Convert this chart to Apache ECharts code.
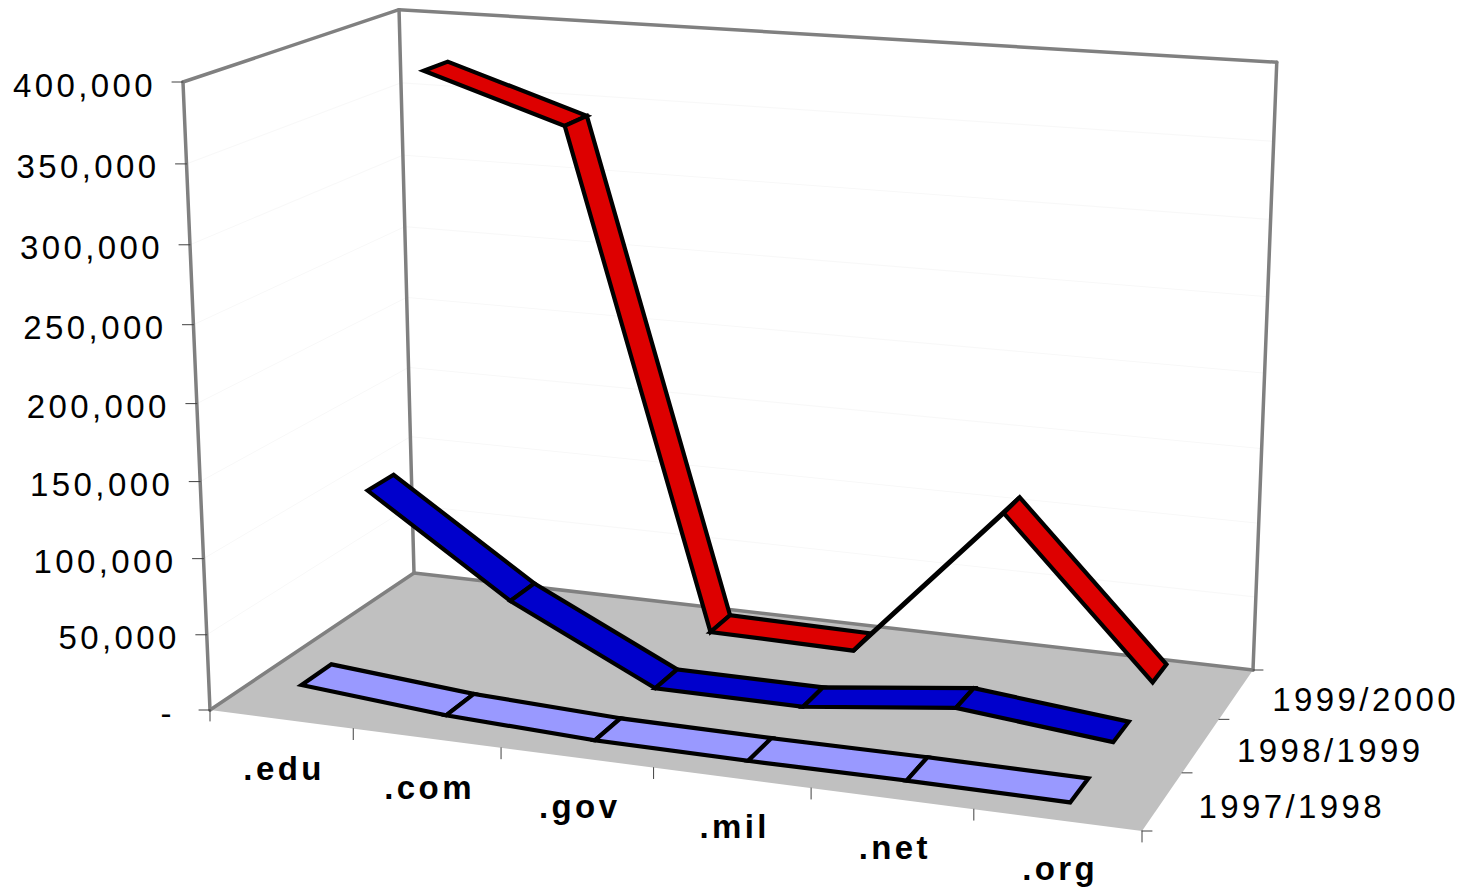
<!DOCTYPE html>
<html>
<head>
<meta charset="utf-8">
<title>Hosts by top-level domain</title>
<style>
  html, body { margin: 0; padding: 0; background: #ffffff; }
  #chart { width: 1466px; height: 893px; }
  #chart text { letter-spacing: 3.4px; }
</style>
<script src="https://cdn.jsdelivr.net/npm/echarts@6/dist/echarts.min.js"></script>
</head>
<body>
<div id="chart"></div>
<script>
// Series values per domain, one list per academic year.
const categories = ['.edu', '.com', '.gov', '.mil', '.net', '.org'];
const years = ['1997/1998', '1998/1999', '1999/2000'];
const hosts1997 = [13000, 5000, 1000, 500, 800, 300];
const hosts1998 = [113000, 48700, 1000, 800, 12500, 2600];
const hosts1999 = [372500, 342400, 7000, 5700, 110700, 8100];
const valueTicks = [0, 50000, 100000, 150000, 200000, 250000, 300000, 350000, 400000];
const valueLabels = ['-', '50,000', '100,000', '150,000', '200,000', '250,000', '300,000', '350,000', '400,000'];

const yearValues = [hosts1997, hosts1998, hosts1999];
const yearColors = ['#9999ff', '#0000cc', '#dd0000'];
const ribbonDepths = [0.14, 0.13, 0.125];
const FONT = '"Liberation Sans", Arial, sans-serif';
const FRAME = '#808080';

// Perspective camera: the floor quad fixes a homography, the vertical
// vanishing point supplies the height direction.
const floorQuad = [[210, 710], [1142, 831], [1253, 670], [414, 573]];
const verticalVanish = [753, 13332];
const wallTop = 82;
const alongWarp = 0.017;
const backWallLift = 6;

const camera = (function () {
  const [p0, p1, p2, p3] = floorQuad;
  const dx1 = p1[0] - p2[0], dx2 = p3[0] - p2[0], sx = p0[0] - p1[0] + p2[0] - p3[0];
  const dy1 = p1[1] - p2[1], dy2 = p3[1] - p2[1], sy = p0[1] - p1[1] + p2[1] - p3[1];
  const den = dx1 * dy2 - dx2 * dy1;
  const g = (sx * dy2 - dx2 * sy) / den;
  const h = (dx1 * sy - sx * dy1) / den;
  return {
    a: p1[0] - p0[0] + g * p1[0], b: p3[0] - p0[0] + h * p3[0], c: p0[0],
    d: p1[1] - p0[1] + g * p1[1], e: p3[1] - p0[1] + h * p3[1], f: p0[1],
    g, h,
    s: (p0[1] - wallTop) / (wallTop - verticalVanish[1])
  };
})();

// u: along the domains, d: into the depth, v: fraction of the value axis.
function project(u0, d, v) {
  const c = camera;
  const u = u0 - alongWarp * u0 * (1 - u0);
  const w = c.g * u + c.h * d + 1 + v * c.s;
  return [
    (c.a * u + c.b * d + c.c + v * c.s * verticalVanish[0]) / w,
    (c.d * u + c.e * d + c.f + v * c.s * verticalVanish[1]) / w - backWallLift * u * d * v
  ];
}

// Reads the hidden cartesian scales and returns axis fractions.
function fractions(api, rect, cat, value) {
  const pt = api.coord([cat, value]);
  return [(pt[0] - rect.x) / rect.width, 1 - (pt[1] - rect.y) / rect.height];
}

function seg(a, b, stroke, lineWidth) {
  return {
    type: 'line',
    shape: { x1: a[0], y1: a[1], x2: b[0], y2: b[1] },
    style: { stroke, lineWidth, lineCap: 'round' },
    silent: true
  };
}

function label(text, x, y, align, bold) {
  return {
    type: 'text',
    silent: true,
    style: {
      text, x, y,
      textAlign: align,
      textVerticalAlign: 'middle',
      fontFamily: FONT,
      fontSize: 33,
      fontWeight: bold ? 'bold' : 'normal',
      fill: '#000000'
    }
  };
}

function renderFrame(params, api) {
  const rect = params.coordSys;
  const children = [];

  children.push({
    type: 'polygon',
    silent: true,
    shape: { points: [project(0, 0, 0), project(1, 0, 0), project(1, 1, 0), project(0, 1, 0)] },
    style: { fill: '#c0c0c0', stroke: null }
  });

  // Faint gridlines round the side and back walls
  valueTicks.slice(1, -1).forEach(function (t) {
    const v = fractions(api, rect, 0, t)[1];
    children.push(seg(project(0, 0, v), project(0, 1, v), '#f8f8f8', 1));
    children.push(seg(project(0, 1, v), project(1, 1, v), '#f8f8f8', 1));
  });

  // Wall edges
  [
    [[0, 0, 0], [0, 0, 1]], [[0, 1, 0], [0, 1, 1]], [[1, 1, 0], [1, 1, 1]],
    [[0, 0, 1], [0, 1, 1]], [[0, 1, 1], [1, 1, 1]],
    [[0, 0, 0], [0, 1, 0]], [[0, 1, 0], [1, 1, 0]]
  ].forEach(function (e) {
    children.push(seg(project.apply(null, e[0]), project.apply(null, e[1]), FRAME, 3.5));
  });

  // Value axis ticks and labels
  valueTicks.forEach(function (t, i) {
    const p = project(0, 0, fractions(api, rect, 0, t)[1]);
    children.push(seg([p[0] - 11, p[1]], p, '#404040', 1));
    children.push(label(valueLabels[i], p[0] - (t === 0 ? 35 : 27), p[1] + 3, 'right', false));
  });

  // Domain axis ticks and labels
  for (let i = 0; i <= categories.length; i++) {
    const p = project(i / categories.length, 0, 0);
    children.push(seg(p, [p[0], p[1] + 11], '#404040', 1));
  }
  categories.forEach(function (name, i) {
    const u = fractions(api, rect, i, 0)[0];
    const p = project(u, 0, 0);
    children.push(label(name, p[0] + 3, p[1] + 49, 'center', true));
  });

  // Year axis ticks and labels
  for (let i = 0; i <= years.length; i++) {
    const p = project(1, i / years.length, 0);
    children.push(seg(p, [p[0] + 10, p[1]], '#404040', 1));
  }
  years.forEach(function (name, i) {
    const p = project(1, (i + 0.5) / years.length, 0);
    children.push(label(name, p[0] + 36, p[1] + 5, 'left', false));
  });

  return { type: 'group', children };
}

function ribbonRenderer(yearIndex) {
  const mid = (yearIndex + 0.5) / years.length;
  const front = mid - ribbonDepths[yearIndex] / 2;
  const back = mid + ribbonDepths[yearIndex] / 2;
  return function (params, api) {
    const nextValue = api.value(2);
    if (nextValue === null || isNaN(nextValue)) return null;
    const rect = params.coordSys;
    const i = api.value(0);
    const a = fractions(api, rect, i, api.value(1));
    const b = fractions(api, rect, i + 1, nextValue);
    return {
      type: 'polygon',
      silent: true,
      shape: {
        points: [
          project(a[0], front, a[1]), project(a[0], back, a[1]),
          project(b[0], back, b[1]), project(b[0], front, b[1])
        ]
      },
      style: {
        fill: yearColors[yearIndex],
        stroke: '#000000',
        lineWidth: 4.2,
        lineJoin: 'miter',
        miterLimit: 3
      }
    };
  };
}

const ribbonSeries = years.map(function (name, idx) {
  const values = yearValues[idx];
  return {
    type: 'custom',
    name,
    coordinateSystem: 'cartesian2d',
    renderItem: ribbonRenderer(idx),
    clip: false,
    silent: true,
    data: values.map(function (v, i) {
      return [i, v, i + 1 < values.length ? values[i + 1] : null];
    }),
    encode: { x: 0, y: 1 }
  };
}).reverse(); // rear year first so nearer ribbons paint over it

const chart = echarts.init(document.getElementById('chart'), null, { renderer: 'svg' });
chart.setOption({
  animation: false,
  backgroundColor: '#ffffff',
  tooltip: { show: false },
  legend: { show: false },
  grid: { left: 0, right: 0, top: 0, bottom: 0 },
  xAxis: { type: 'category', data: categories, show: false },
  yAxis: { type: 'value', min: 0, max: 400000, interval: 50000, show: false },
  series: [{
    type: 'custom',
    name: 'frame',
    coordinateSystem: 'cartesian2d',
    renderItem: renderFrame,
    clip: false,
    silent: true,
    data: [[0, 0]],
    encode: { x: 0, y: 1 }
  }].concat(ribbonSeries)
});
</script>
</body>
</html>
